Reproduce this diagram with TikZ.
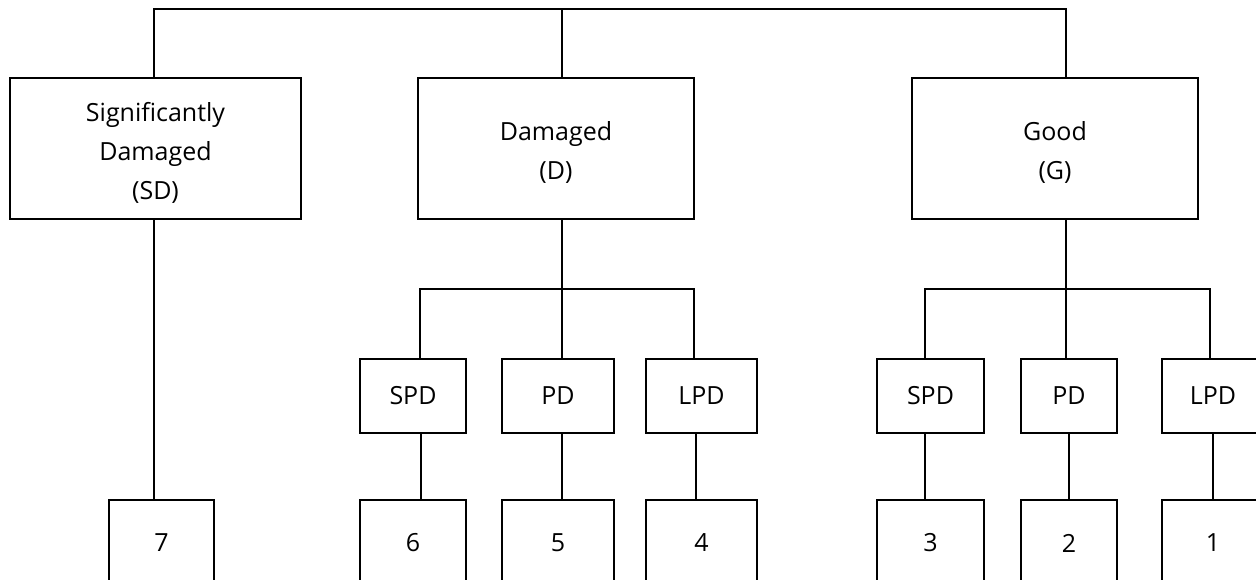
\documentclass[tikz,border=0pt]{standalone}
\usepackage{fontspec}
\setmainfont{Open Sans}
\begin{document}
\begin{tikzpicture}[x=1pt,y=-1pt,
  box/.style={draw,line width=2.8pt,inner sep=0pt,align=center,
    font=\fontsize{25}{39}\selectfont},
  lab/.style={align=center,inner sep=0pt,yshift=-4pt,
    font=\fontsize{25}{39}\selectfont},
  conn/.style={line width=2.8pt}]
\useasboundingbox (0,0) rectangle (1256,579);
\clip (0,0) rectangle (1256,579);
% level 1
\node[box,minimum width=291pt,minimum height=141pt,
  label={[lab]center:Significantly\\Damaged\\(SD)}] (SD) at (155.5,148.5) {};
\node[box,minimum width=276pt,minimum height=141pt,
  label={[lab]center:Damaged\\(D)}] (D) at (556,148.5) {};
\node[box,minimum width=286pt,minimum height=141pt,
  label={[lab]center:Good\\(G)}] (G) at (1055,148.5) {};
% level 2
\node[box,minimum width=106pt,minimum height=74pt] (DSPD) at (413,396) {SPD};
\node[box,minimum width=112pt,minimum height=74pt] (DPD) at (558,396) {PD};
\node[box,minimum width=111pt,minimum height=74pt] (DLPD) at (701.5,396) {LPD};
\node[box,minimum width=107pt,minimum height=74pt] (GSPD) at (930.5,396) {SPD};
\node[box,minimum width=96pt,minimum height=74pt] (GPD) at (1069,396) {PD};
\node[box,minimum width=102pt,minimum height=74pt] (GLPD) at (1213,396) {LPD};
% level 3
\node[box,minimum width=105pt,minimum height=86pt] (n7) at (161.5,543) {7};
\node[box,minimum width=106pt,minimum height=86pt] (n6) at (413,543) {6};
\node[box,minimum width=112pt,minimum height=86pt] (n5) at (558,543) {5};
\node[box,minimum width=111pt,minimum height=86pt] (n4) at (701.5,543) {4};
\node[box,minimum width=107pt,minimum height=86pt] (n3) at (930.5,543) {3};
\node[box,minimum width=96pt,minimum height=86pt] (n2) at (1069,543) {2};
\node[box,minimum width=102pt,minimum height=86pt] (n1) at (1213,543) {1};
% junction coordinates
\coordinate (tSD) at (154,9);
\coordinate (tD) at (562,9);
\coordinate (tG) at (1066,9);
\coordinate (jD) at (562,289);
\coordinate (jDl) at (420,289);
\coordinate (jDr) at (694,289);
\coordinate (jG) at (1066,289);
\coordinate (jGl) at (925,289);
\coordinate (jGr) at (1210,289);
% top bus
\draw[conn] (tSD |- SD.north) -- (tSD) -- (tG) -- (tG |- G.north);
\draw[conn] (tD) -- (tD |- D.north);
% SD branch
\draw[conn] (tSD |- SD.south) -- (tSD |- n7.north);
% D branch
\draw[conn] (jD |- D.south) -- (jD);
\draw[conn] (jDl |- DSPD.north) -- (jDl) -- (jDr) -- (jDr |- DLPD.north);
\draw[conn] (jD) -- (jD |- DPD.north);
\draw[conn] ([xshift=8pt]DSPD.south) -- ([xshift=8pt]DSPD.south |- n6.north);
\draw[conn] ([xshift=4pt]DPD.south) -- ([xshift=4pt]DPD.south |- n5.north);
\draw[conn] ([xshift=-5.5pt]DLPD.south) -- ([xshift=-5.5pt]DLPD.south |- n4.north);
% G branch
\draw[conn] (jG |- G.south) -- (jG);
\draw[conn] (jGl |- GSPD.north) -- (jGl) -- (jGr) -- (jGr |- GLPD.north);
\draw[conn] (jG) -- (jG |- GPD.north);
\draw[conn] ([xshift=-5.5pt]GSPD.south) -- ([xshift=-5.5pt]GSPD.south |- n3.north);
\draw[conn] (GPD.south) -- (n2.north);
\draw[conn] (GLPD.south) -- (n1.north);
\end{tikzpicture}
\end{document}
